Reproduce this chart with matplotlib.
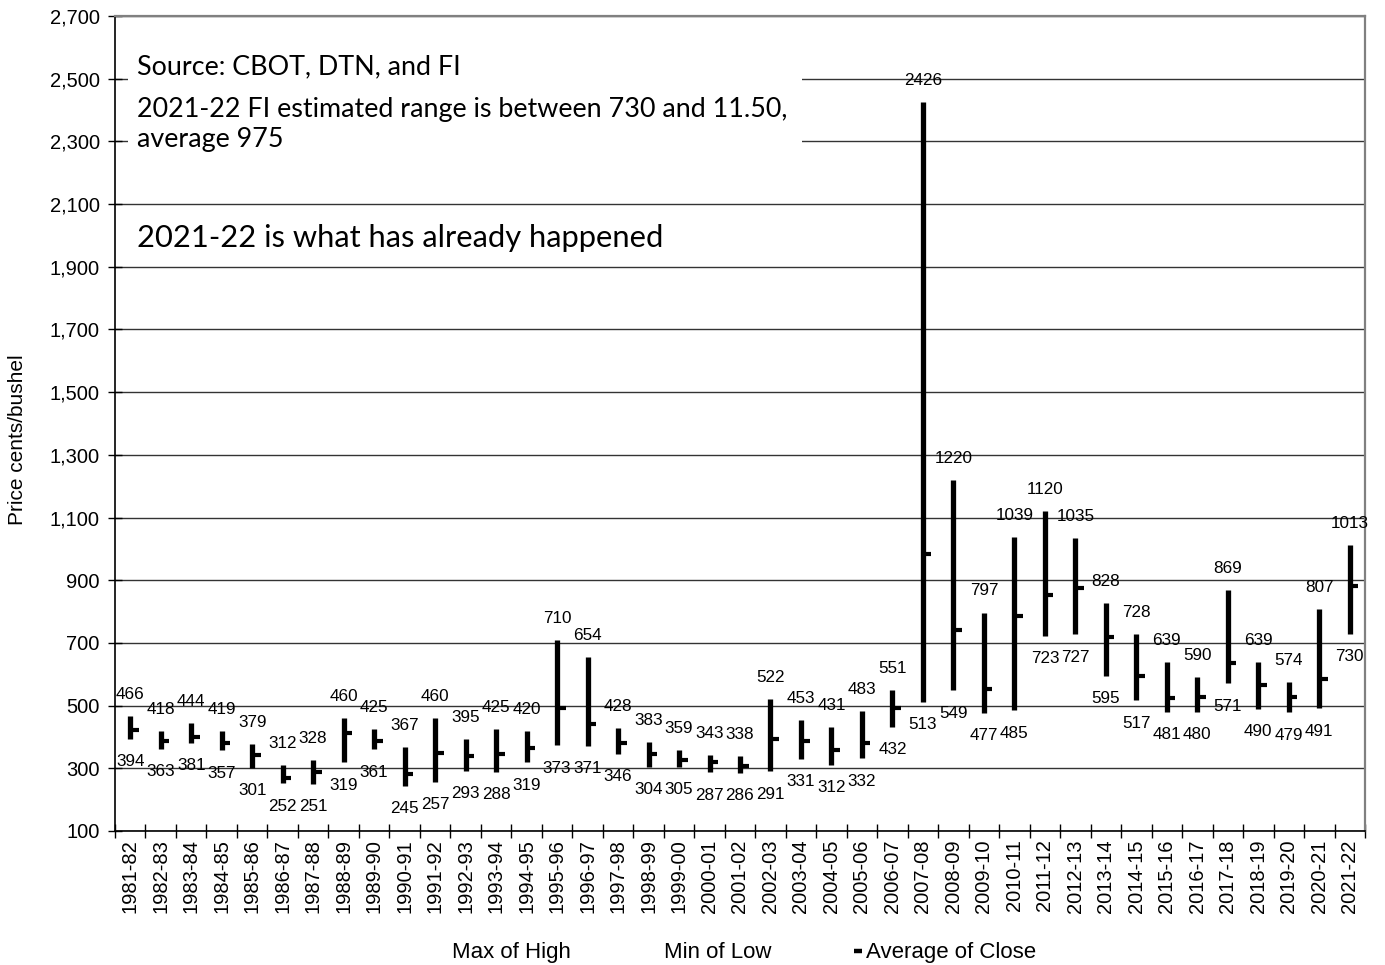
import matplotlib
matplotlib.use("Agg")
import matplotlib.pyplot as plt
from matplotlib.lines import Line2D
from matplotlib.patches import Rectangle
from matplotlib.ticker import FuncFormatter, FixedLocator, NullFormatter

seasons = ["1981-82", "1982-83", "1983-84", "1984-85", "1985-86", "1986-87", "1987-88",
           "1988-89", "1989-90", "1990-91", "1991-92", "1992-93", "1993-94", "1994-95",
           "1995-96", "1996-97", "1997-98", "1998-99", "1999-00", "2000-01", "2001-02",
           "2002-03", "2003-04", "2004-05", "2005-06", "2006-07", "2007-08", "2008-09",
           "2009-10", "2010-11", "2011-12", "2012-13", "2013-14", "2014-15", "2015-16",
           "2016-17", "2017-18", "2018-19", "2019-20", "2020-21", "2021-22"]
max_high = [466, 418, 444, 419, 379, 312, 328, 460, 425, 367, 460, 395, 425, 420,
            710, 654, 428, 383, 359, 343, 338, 522, 453, 431, 483, 551, 2426, 1220,
            797, 1039, 1120, 1035, 828, 728, 639, 590, 869, 639, 574, 807, 1013]
min_low = [394, 363, 381, 357, 301, 252, 251, 319, 361, 245, 257, 293, 288, 319,
           373, 371, 346, 304, 305, 287, 286, 291, 331, 312, 332, 432, 513, 549,
           477, 485, 723, 727, 595, 517, 481, 480, 571, 490, 479, 491, 730]
avg_close = [422, 387, 401, 380, 343, 270, 287, 413, 388, 283, 348, 339, 346, 366,
             491, 441, 382, 346, 326, 319, 308, 393, 388, 358, 382, 493, 983, 740,
             553, 787, 854, 874, 719, 595, 523, 528, 636, 565, 526, 585, 882]
y_ticks = list(range(100, 2701, 200))
legend_labels = ["Max of High", "Min of Low", "Average of Close"]

W, H = 1385, 965
fig = plt.figure(figsize=(W / 100, H / 100), dpi=100)
ax = fig.add_axes([115 / W, 1 - 831 / H, (1365 - 115) / W, (831 - 16) / H])

AR = ["Liberation Sans", "DejaVu Sans"]
CAL = ["Lato", "DejaVu Sans"]

x = list(range(len(seasons)))
ax.vlines(x, min_low, max_high, color="black", linewidth=3.8, zorder=3)
ax.hlines(avg_close, [i for i in x], [i + 0.28 for i in x], color="black",
          linewidth=3.0, zorder=3)

for i in x:
    ax.annotate(str(max_high[i]), (i, max_high[i]), xytext=(0, 15.5),
                textcoords="offset points", ha="center", va="center",
                fontsize=12.3, family=AR, zorder=4)
    ax.annotate(str(min_low[i]), (i, min_low[i]), xytext=(0, -16.5),
                textcoords="offset points", ha="center", va="center",
                fontsize=12.3, family=AR, zorder=4)

ax.set_xlim(-0.5, len(seasons) - 0.5)
ax.set_ylim(100, 2700)
ax.yaxis.set_major_locator(FixedLocator(y_ticks))
ax.yaxis.set_major_formatter(FuncFormatter(lambda v, p: f"{int(v):,}"))
ax.set_xticks(x)
ax.set_xticklabels(seasons, rotation=90, fontsize=14.5, family=AR)
ax.xaxis.set_minor_locator(FixedLocator([i - 0.5 for i in range(len(seasons) + 1)]))
ax.xaxis.set_minor_formatter(NullFormatter())
ax.tick_params(axis="x", which="major", length=0, pad=6)
ax.tick_params(axis="x", which="minor", direction="inout", length=10, width=1, color="black")
ax.tick_params(axis="y", direction="inout", length=10, width=1, pad=6, labelsize=14.5)
for lab in ax.get_yticklabels():
    lab.set_family(AR)

ax.grid(axis="y", color="#333333", linewidth=1.0, zorder=0.5)
ax.set_axisbelow(True)
for side in ["top", "right"]:
    ax.spines[side].set_color("#808080")
    ax.spines[side].set_linewidth(1.6)
for side in ["left", "bottom"]:
    ax.spines[side].set_color("black")
    ax.spines[side].set_linewidth(1.2)

fig.text(18 / W, 1 - 440 / H, "Price cents/bushel", rotation=90, ha="center",
         va="center", fontsize=15, family=AR)

# annotation box
ax.add_patch(Rectangle((128 / W, 1 - 160 / H), (802 - 128) / W, (160 - 45) / H,
                       transform=fig.transFigure, facecolor="white", edgecolor="none",
                       zorder=1, clip_on=False))
fig.text(137 / W, 1 - 67 / H, "Source: CBOT, DTN, and FI", ha="left", va="center",
         fontsize=19.4, family=CAL, zorder=5)
fig.text(137 / W, 1 - 110 / H, "2021-22 FI estimated range is between 730 and 11.50,",
         ha="left", va="center", fontsize=19.4, family=CAL, zorder=5)
fig.text(137 / W, 1 - 139 / H, "average 975", ha="left", va="center",
         fontsize=19.4, family=CAL, zorder=5)
fig.text(137 / W, 1 - 238 / H, "2021-22 is what has already happened", ha="left",
         va="center", fontsize=22.2, family=CAL, zorder=5)

# legend (manual, baseline-aligned)
base_y = 1 - 958 / H
for xp, lab in zip([452, 664, 866], legend_labels):
    fig.text(xp / W, base_y, lab, ha="left", va="baseline", fontsize=16, family=AR)
fig.add_artist(Line2D([854 / W, 862 / W], [1 - 951 / H, 1 - 951 / H],
                      transform=fig.transFigure, color="black", linewidth=3.2,
                      solid_capstyle="butt"))

fig.savefig("out.png", dpi=100)
